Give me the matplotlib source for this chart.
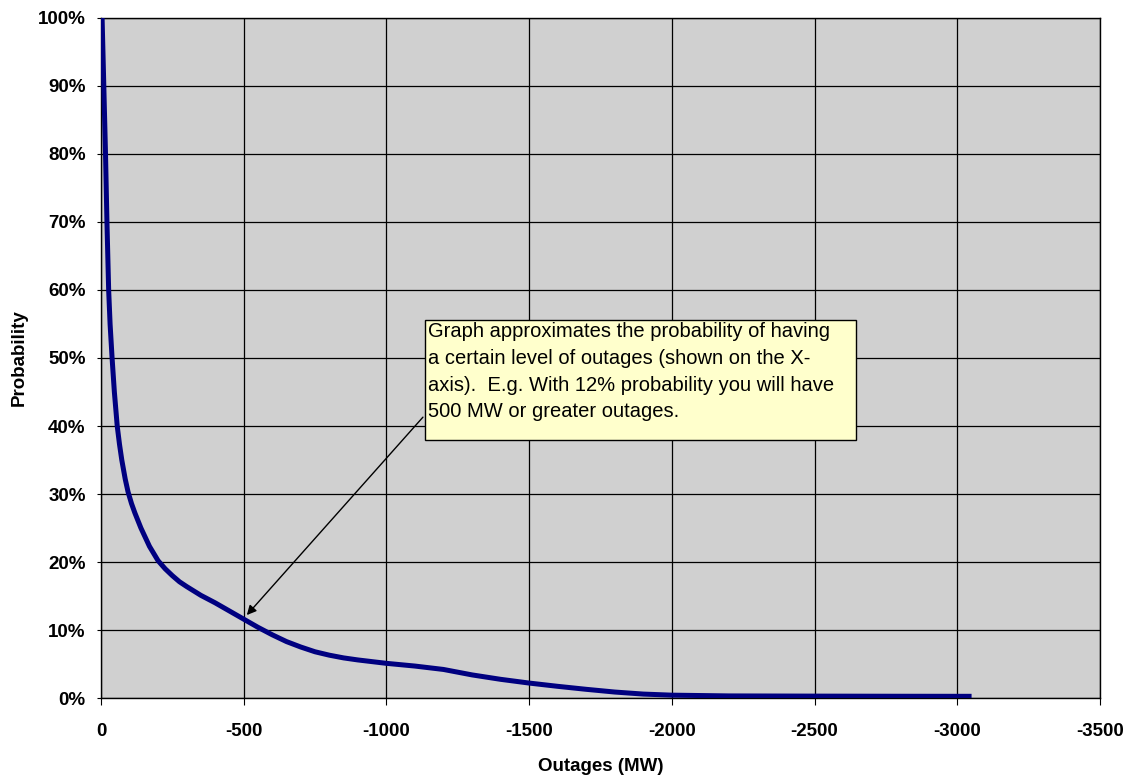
import matplotlib
matplotlib.use("Agg")
import matplotlib.pyplot as plt
from matplotlib.ticker import FuncFormatter
from matplotlib.patches import Rectangle

# outage level (MW, negative) vs probability of that much or more outage
outage_mw = [-4, -10, -16, -21, -27, -32, -39, -47, -57, -65, -73, -85, -95,
             -107, -119, -140, -170, -200, -225, -250, -275, -300, -350, -400,
             -450, -500, -550, -600, -650, -700, -750, -800, -850, -900, -1000,
             -1100, -1200, -1300, -1400, -1500, -1600, -1700, -1800, -1900,
             -2000, -2200, -2500, -2800, -3050]
probability = [1.00, 0.90, 0.80, 0.70, 0.60, 0.55, 0.50, 0.45, 0.40, 0.373,
               0.35, 0.322, 0.303, 0.286, 0.272, 0.25, 0.223, 0.202, 0.190,
               0.180, 0.171, 0.164, 0.151, 0.140, 0.128, 0.116, 0.104, 0.093,
               0.083, 0.075, 0.068, 0.063, 0.059, 0.056, 0.051, 0.047, 0.042,
               0.034, 0.0275, 0.022, 0.0172, 0.0128, 0.0088, 0.0058, 0.0042,
               0.0031, 0.0028, 0.0026, 0.0025]

x_ticks = [0, -500, -1000, -1500, -2000, -2500, -3000, -3500]
y_ticks = [0, 0.1, 0.2, 0.3, 0.4, 0.5, 0.6, 0.7, 0.8, 0.9, 1.0]

note_lines = [
    "Graph approximates the probability of having",
    "a certain level of outages (shown on the X-",
    "axis).  E.g. With 12% probability you will have",
    "500 MW or greater outages.",
]

plt.rcParams["font.family"] = ["Liberation Sans", "DejaVu Sans"]

fig = plt.figure(figsize=(11.33, 7.78), dpi=100)
ax = fig.add_axes([0.0891, 0.1028, 0.8818, 0.8741])
ax.set_facecolor("#D0D0D0")

ax.plot(outage_mw, probability, color="#000080", lw=3.6, solid_capstyle="butt",
        solid_joinstyle="round", zorder=4)

ax.set_xlim(0, -3500)
ax.set_ylim(0, 1)
ax.set_xticks(x_ticks)
ax.set_yticks(y_ticks)
ax.xaxis.set_major_formatter(FuncFormatter(lambda v, p: f"{int(v)}"))
ax.yaxis.set_major_formatter(FuncFormatter(lambda v, p: f"{v * 100:.0f}%"))
ax.grid(True, color="black", lw=0.9, zorder=1)
ax.set_axisbelow(True)
for s in ax.spines.values():
    s.set_color("black")
    s.set_linewidth(1.0)

ax.tick_params(axis="x", direction="out", length=5, pad=13, labelsize=13.5)
ax.tick_params(axis="y", direction="out", length=3, pad=8, labelsize=13.5)
for lbl in ax.get_xticklabels() + ax.get_yticklabels():
    lbl.set_fontweight("bold")

ax.set_xlabel("Outages (MW)", fontsize=13.5, fontweight="bold", labelpad=13)
ax.set_ylabel("Probability", fontsize=13.5, fontweight="bold", labelpad=7)

# note box with arrow
box = Rectangle((0.3247, 0.3794), 0.4308, 0.1765, transform=ax.transAxes,
                facecolor="#FFFFCC", edgecolor="black", lw=1.0, zorder=6)
ax.add_patch(box)
for i, line in enumerate(note_lines):
    ax.text(0.3273, 0.5385 - i * 0.0392, line, transform=ax.transAxes,
            fontsize=14.5, va="center", ha="left", zorder=7)

ax.annotate("", xy=(-511, 0.122), xytext=(-1128, 0.413),
            arrowprops=dict(arrowstyle="-|>", color="black", lw=1.0,
                            mutation_scale=14, shrinkA=0, shrinkB=0),
            zorder=5)

fig.savefig("out.png", dpi=100)
